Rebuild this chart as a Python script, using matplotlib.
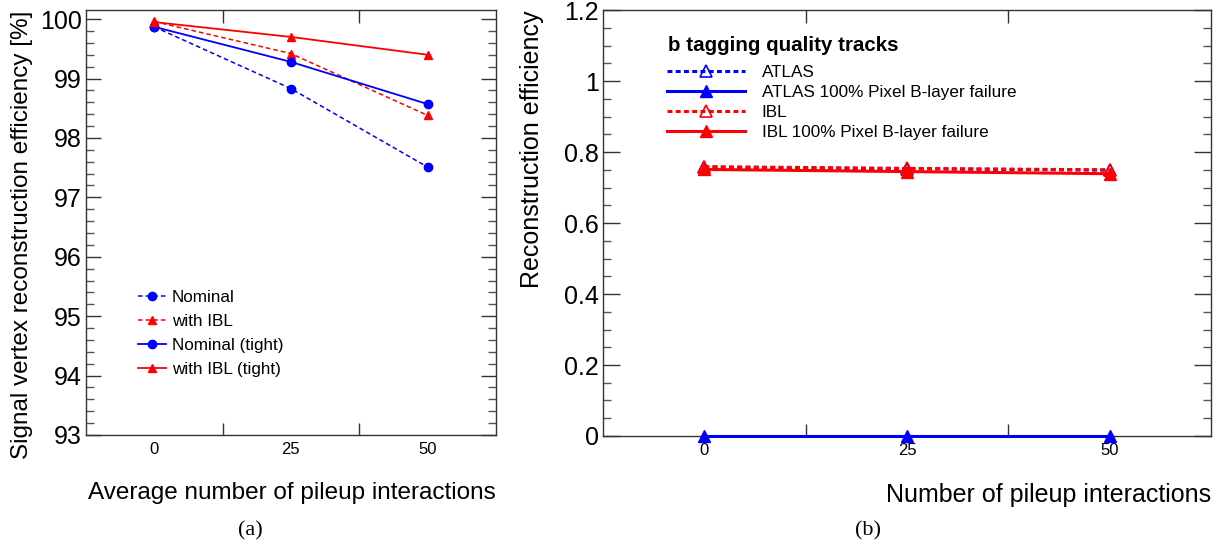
import numpy as np
import matplotlib.pyplot as plt
from matplotlib.ticker import FixedLocator, NullFormatter, FixedFormatter, MultipleLocator

plt.rcParams['font.family'] = ['Liberation Sans', 'DejaVu Sans']

# pileup points
pileup = [0, 25, 50]
pileup_labels = ['0', '25', '50']

# (a) signal vertex reconstruction efficiency [%]
nominal = [99.87, 98.83, 97.51]
with_ibl = [99.96, 99.42, 98.38]
nominal_tight = [99.87, 99.28, 98.57]
with_ibl_tight = [99.95, 99.70, 99.40]

# (b) b tagging quality track reconstruction efficiency
atlas = [0.757, 0.753, 0.749]
atlas_fail = [0.0, 0.0, 0.0]
ibl = [0.759, 0.754, 0.750]
ibl_fail = [0.751, 0.745, 0.739]

BLUE = '#0000ff'
RED = '#ff0000'
SPINE = '#333333'

fig = plt.figure(figsize=(12.26, 5.46), dpi=100)
ax1 = fig.add_axes([0.0701, 0.2033, 0.3344, 0.778])
ax2 = fig.add_axes([0.4918, 0.2015, 0.4960, 0.780])


def style_axes(ax, major_len, minor_len):
    for s in ax.spines.values():
        s.set_color(SPINE)
        s.set_linewidth(1.0)
    ax.xaxis.set_major_locator(FixedLocator([12.5, 37.5]))
    ax.xaxis.set_major_formatter(NullFormatter())
    ax.xaxis.set_minor_locator(FixedLocator(pileup))
    ax.xaxis.set_minor_formatter(FixedFormatter(pileup_labels))
    ax.tick_params(axis='x', which='major', direction='in', top=True, bottom=True,
                   length=9, width=1, color=SPINE)
    ax.tick_params(axis='x', which='minor', length=0, labelsize=12, pad=5)
    ax.tick_params(axis='y', which='major', direction='in', left=True, right=True,
                   length=major_len, width=1, color=SPINE, labelsize=18, pad=3)
    ax.tick_params(axis='y', which='minor', direction='in', left=True, right=True,
                   length=minor_len, width=1, color='#555555')
    ax.set_xlim(-12.5, 62.5)


# ---- (a)
dash_a = (3, 2)
ax1.plot(pileup, nominal, color=BLUE, ls='--', dashes=dash_a, lw=1.1,
         marker='o', ms=6, label='Nominal')
ax1.plot(pileup, with_ibl, color=RED, ls='--', dashes=dash_a, lw=1.1,
         marker='^', ms=6, label='with IBL')
ax1.plot(pileup, nominal_tight, color=BLUE, lw=1.3,
         marker='o', ms=6, label='Nominal (tight)')
ax1.plot(pileup, with_ibl_tight, color=RED, lw=1.3,
         marker='^', ms=6, label='with IBL (tight)')
style_axes(ax1, 11, 6)
ax1.set_ylim(93, 100.15)
ax1.yaxis.set_major_locator(MultipleLocator(1))
ax1.yaxis.set_minor_locator(MultipleLocator(0.2))
ax1.set_ylabel('Signal vertex reconstruction efficiency [%]', fontsize=17.5,
               loc='top', labelpad=5)
ax1.set_xlabel('Average number of pileup interactions', fontsize=17.5,
               loc='right', labelpad=18)
ax1.legend(loc='upper left', bbox_to_anchor=(0.11, 0.358), frameon=False,
           fontsize=12.3, handlelength=1.65, handletextpad=0.35, labelspacing=0.53,
           borderaxespad=0)

# ---- (b)
dash_b = (1.6, 1.1)
ax2.plot(pileup, atlas, color=BLUE, ls='--', dashes=dash_b, lw=2.2,
         marker='^', ms=8, mfc='none', mew=1.2, label='ATLAS', clip_on=False)
ax2.plot(pileup, atlas_fail, color=BLUE, lw=2.2, marker='^', ms=8,
         label='ATLAS 100% Pixel B-layer failure', clip_on=False, zorder=5)
ax2.plot(pileup, ibl, color=RED, ls='--', dashes=dash_b, lw=2.2,
         marker='^', ms=8, mfc='none', mew=1.2, label='IBL')
ax2.plot(pileup, ibl_fail, color=RED, lw=2.2, marker='^', ms=8,
         label='IBL 100% Pixel B-layer failure')
style_axes(ax2, 12, 6)
ax2.set_ylim(0, 1.2)
ax2.yaxis.set_major_locator(MultipleLocator(0.2))
ax2.yaxis.set_minor_locator(MultipleLocator(0.05))
ax2.yaxis.set_major_formatter(plt.FuncFormatter(lambda v, p: '%g' % round(v, 2)))
ax2.set_ylabel('Reconstruction efficiency', fontsize=18, loc='top', labelpad=14)
ax2.set_xlabel('Number of pileup interactions', fontsize=18,
               loc='right', labelpad=18)
ax2.text(0.107, 0.918, 'b tagging quality tracks', transform=ax2.transAxes,
         fontsize=14.8, fontweight='bold', va='center', ha='left')
ax2.legend(loc='upper left', bbox_to_anchor=(0.094, 0.888), frameon=False,
           fontsize=12.3, handlelength=4.55, handletextpad=1.0,
           labelspacing=0.3, borderaxespad=0)

# captions
fig.text(0.204, 0.02, '(a)', fontsize=16, family='Liberation Serif', ha='center')
fig.text(0.708, 0.02, '(b)', fontsize=16, family='Liberation Serif', ha='center')

fig.savefig('out.png', dpi=100)
